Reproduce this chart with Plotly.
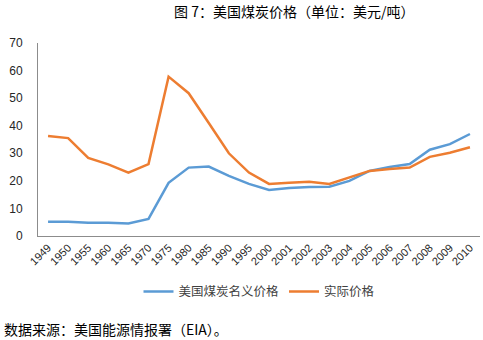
import plotly.graph_objects as go

years = ["1949", "1950", "1955", "1960", "1965", "1970", "1975", "1980", "1985",
         "1990", "1995", "2000", "2001", "2002", "2003", "2004", "2005", "2006",
         "2007", "2008", "2009", "2010"]
nominal_price = [5.2, 5.2, 4.8, 4.8, 4.5, 6.2, 19.3, 24.8, 25.2, 21.8, 18.9, 16.7,
                 17.4, 17.8, 17.9, 20.0, 23.6, 25.0, 26.1, 31.3, 33.3, 37.0]
real_price = [36.3, 35.5, 28.3, 26.0, 23.0, 26.1, 57.8, 51.8, 41.0, 30.0, 23.0, 18.9,
              19.3, 19.7, 18.9, 21.2, 23.6, 24.3, 24.8, 28.7, 30.2, 32.2]
y_ticks = [0, 10, 20, 30, 40, 50, 60, 70]

cjk = "Noto Sans CJK SC"
latin = "Liberation Sans, Arial"

fig = go.Figure()
fig.add_trace(go.Scatter(x=years, y=nominal_price, mode="lines", name="美国煤炭名义价格",
                         line=dict(color="#5B9BD5", width=2.5)))
fig.add_trace(go.Scatter(x=years, y=real_price, mode="lines", name="实际价格",
                         line=dict(color="#ED7D31", width=2.5)))

fig.update_layout(
    width=483, height=340,
    margin=dict(l=38, r=3, t=43, b=104),
    paper_bgcolor="white", plot_bgcolor="white",
    showlegend=True,
    legend=dict(orientation="h", x=0.5, xanchor="center", y=-0.29, yanchor="middle",
                font=dict(family=cjk, size=12.5, color="#404040"),
                itemwidth=30, tracegroupgap=0),
    font=dict(family=latin, color="#262626"),
)
fig.update_xaxes(type="category", range=[-0.5, 21.5], showgrid=False,
                 showline=True, linecolor="#8C8C8C", linewidth=1,
                 tickangle=-45, tickfont=dict(size=11, family=latin, color="#262626"),
                 ticks="", fixedrange=True)
fig.update_yaxes(range=[0, 70], tickvals=y_ticks, showgrid=False, zeroline=False,
                 showline=True, linecolor="#8C8C8C", linewidth=1,
                 tickfont=dict(size=12, family=latin, color="#262626"),
                 ticks="", ticklabelstandoff=12)

fig.add_annotation(text="图 7：美国煤炭价格（单位：美元/吨）", xref="paper", yref="paper",
                   x=278 / 480, y=1.0, xanchor="center", yanchor="bottom", yshift=20,
                   showarrow=False, font=dict(family=cjk, size=14, color="#000000"))
fig.add_annotation(text="数据来源：美国能源情报署（EIA）。", xref="paper", yref="paper",
                   x=-36 / 442, y=-0.48, xanchor="left", yanchor="middle",
                   showarrow=False, font=dict(family=cjk, size=14, color="#000000"))

fig.write_html("out.html")
